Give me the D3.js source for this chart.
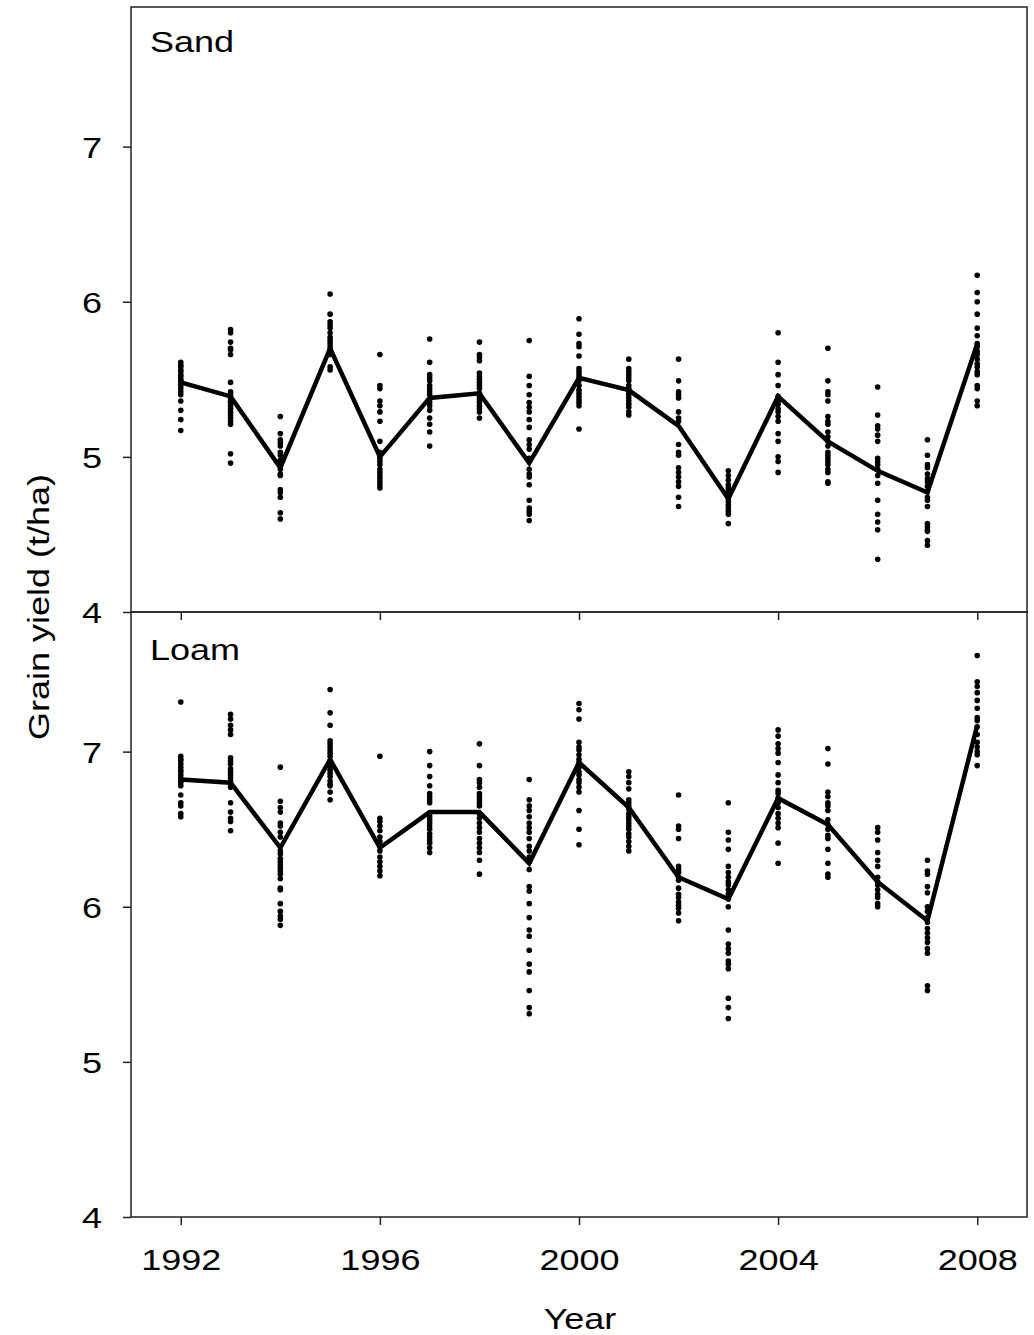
<!DOCTYPE html>
<html>
<head>
<meta charset="utf-8">
<script src="https://cdn.jsdelivr.net/npm/d3@7"></script>
<style>
  body { margin: 0; background: #fff; }
  text { font-family: "Liberation Sans", Arial, sans-serif; fill: #000; }
</style>
</head>
<body>
<svg id="chart" width="1034" height="1335"></svg>
<script>
const years = [1992,1993,1994,1995,1996,1997,1998,1999,2000,2001,2002,2003,2004,2005,2006,2007,2008];
const xTicks = [1992,1996,2000,2004,2008];
const yTicks = [4,5,6,7];
const panelNames = ["Sand","Loam"];

const sandMean = [5.48,5.39,4.93,5.70,5.00,5.38,5.41,4.96,5.51,5.43,5.20,4.73,5.39,5.10,4.91,4.77,5.73];
const loamMean = [6.82,6.80,6.38,6.95,6.38,6.61,6.61,6.28,6.93,6.64,6.19,6.05,6.70,6.53,6.16,5.91,7.17];

const sandYield = [
  [5.61,5.59,5.58,5.56,5.55,5.53,5.52,5.50,5.49,5.47,5.46,5.44,5.42,5.40,5.36,5.30,5.24,5.17],
  [5.82,5.80,5.74,5.70,5.69,5.66,5.48,5.42,5.40,5.38,5.36,5.35,5.33,5.31,5.29,5.27,5.25,5.23,5.21,5.02,4.96],
  [5.26,5.15,5.11,5.09,5.07,5.03,5.01,4.98,4.96,4.94,4.92,4.89,4.88,4.79,4.77,4.74,4.64,4.60],
  [6.05,5.92,5.87,5.85,5.83,5.80,5.77,5.75,5.73,5.71,5.69,5.67,5.66,5.58,5.56],
  [5.66,5.46,5.44,5.36,5.33,5.29,5.23,5.10,5.03,5.01,4.99,4.97,4.95,4.92,4.90,4.88,4.86,4.84,4.82,4.80],
  [5.76,5.61,5.53,5.51,5.49,5.46,5.44,5.42,5.40,5.37,5.35,5.33,5.30,5.25,5.21,5.16,5.07],
  [5.74,5.66,5.64,5.62,5.54,5.52,5.50,5.48,5.46,5.44,5.41,5.39,5.37,5.35,5.33,5.31,5.29,5.25],
  [5.75,5.52,5.46,5.40,5.35,5.32,5.29,5.24,5.19,5.11,5.08,5.05,4.99,4.92,4.89,4.87,4.82,4.72,4.67,4.65,4.63,4.59],
  [5.89,5.79,5.73,5.71,5.65,5.57,5.55,5.53,5.51,5.49,5.46,5.43,5.41,5.39,5.37,5.35,5.33,5.18],
  [5.63,5.57,5.55,5.53,5.51,5.49,5.46,5.44,5.42,5.40,5.38,5.36,5.34,5.32,5.29,5.27],
  [5.63,5.49,5.42,5.40,5.38,5.29,5.25,5.23,5.08,5.03,5.01,4.93,4.90,4.87,4.84,4.81,4.74,4.68],
  [4.91,4.88,4.85,4.82,4.80,4.78,4.75,4.73,4.71,4.69,4.67,4.65,4.63,4.57],
  [5.80,5.61,5.53,5.46,5.39,5.36,5.34,5.31,5.29,5.26,5.23,5.15,5.10,5.00,4.97,4.90],
  [5.70,5.49,5.42,5.40,5.36,5.26,5.23,5.21,5.16,5.13,5.10,5.07,5.03,5.01,4.99,4.97,4.95,4.92,4.90,4.84,4.83],
  [5.45,5.27,5.20,5.18,5.14,5.10,4.99,4.97,4.95,4.92,4.88,4.83,4.72,4.63,4.58,4.53,4.34],
  [5.11,5.01,4.95,4.93,4.89,4.86,4.84,4.81,4.78,4.74,4.72,4.68,4.57,4.55,4.53,4.52,4.46,4.43],
  [6.17,6.06,6.00,5.92,5.83,5.78,5.73,5.71,5.68,5.66,5.63,5.60,5.58,5.55,5.53,5.46,5.44,5.36,5.33]
];

const loamYield = [
  [7.32,6.97,6.95,6.94,6.92,6.90,6.88,6.87,6.85,6.83,6.81,6.80,6.78,6.72,6.67,6.65,6.60,6.58],
  [7.24,7.21,7.17,7.14,7.11,6.96,6.94,6.92,6.89,6.87,6.85,6.83,6.81,6.79,6.77,6.67,6.61,6.57,6.55,6.49],
  [6.90,6.68,6.64,6.61,6.54,6.52,6.48,6.45,6.39,6.36,6.34,6.31,6.29,6.27,6.25,6.23,6.21,6.18,6.12,6.11,6.02,5.97,5.94,5.92,5.88],
  [7.40,7.25,7.17,7.07,7.05,7.03,7.01,6.99,6.97,6.94,6.92,6.90,6.88,6.86,6.84,6.81,6.79,6.78,6.74,6.69],
  [6.97,6.57,6.55,6.52,6.49,6.45,6.42,6.39,6.36,6.32,6.29,6.26,6.23,6.20],
  [7.00,6.91,6.84,6.78,6.73,6.71,6.69,6.67,6.60,6.58,6.56,6.54,6.52,6.50,6.47,6.45,6.43,6.41,6.38,6.35],
  [7.05,6.91,6.82,6.80,6.77,6.73,6.71,6.69,6.67,6.65,6.60,6.57,6.54,6.51,6.48,6.44,6.41,6.38,6.35,6.30,6.21],
  [6.82,6.69,6.65,6.62,6.58,6.54,6.51,6.48,6.44,6.39,6.36,6.32,6.29,6.24,6.13,6.10,6.02,5.93,5.85,5.81,5.72,5.63,5.58,5.46,5.35,5.31],
  [7.31,7.27,7.21,7.06,7.03,7.01,6.98,6.95,6.93,6.90,6.87,6.85,6.82,6.80,6.77,6.74,6.62,6.50,6.40],
  [6.87,6.84,6.80,6.76,6.69,6.67,6.65,6.63,6.60,6.58,6.56,6.54,6.52,6.50,6.47,6.45,6.42,6.39,6.36],
  [6.72,6.52,6.50,6.44,6.26,6.24,6.22,6.19,6.17,6.12,6.08,6.06,6.03,6.01,5.99,5.96,5.91],
  [6.67,6.48,6.43,6.37,6.26,6.22,6.19,6.16,6.14,6.11,6.08,6.05,6.00,5.85,5.76,5.73,5.70,5.65,5.63,5.60,5.41,5.35,5.28],
  [7.14,7.10,7.05,7.02,6.99,6.93,6.85,6.80,6.75,6.73,6.70,6.67,6.64,6.60,6.57,6.54,6.51,6.41,6.28],
  [7.02,6.92,6.74,6.71,6.67,6.65,6.62,6.56,6.53,6.50,6.46,6.44,6.37,6.28,6.21,6.19],
  [6.51,6.48,6.43,6.35,6.30,6.26,6.19,6.16,6.14,6.11,6.08,6.06,6.02,6.00],
  [6.30,6.23,6.21,6.13,6.09,6.00,5.97,5.93,5.90,5.86,5.83,5.80,5.77,5.73,5.70,5.49,5.46],
  [7.62,7.45,7.42,7.38,7.33,7.28,7.22,7.20,7.16,7.11,7.06,7.03,7.00,6.98,6.91]
];

const svg = d3.select("#chart");
const left = 131, right = 1027;
const panels = [
  { name: panelNames[0], top: 7, bottom: 612, mean: sandMean, pts: sandYield, labelY: 52, showX: false },
  { name: panelNames[1], top: 612, bottom: 1217, mean: loamMean, pts: loamYield, labelY: 660, showX: true }
];

const x = d3.scaleLinear().domain([1991, 2009]).range([left, right]);
const ink = "#222";
const TX = "scale(1.2,1)";

panels.forEach(p => {
  const y = d3.scaleLinear().domain([4, 7.9]).range([p.bottom, p.top]);
  const g = svg.append("g");

  const ya = g.append("g").attr("transform", `translate(${left},0)`)
    .call(d3.axisLeft(y).tickValues(yTicks).tickSize(8).tickSizeOuter(0).tickFormat(d3.format("d")));
  ya.select(".domain").remove();
  ya.selectAll(".tick line").attr("stroke", ink).attr("stroke-width", 1.5);
  ya.selectAll(".tick text")
    .attr("x", 0).attr("dy", "0.36em")
    .attr("transform", "translate(-29,0) " + TX)
    .style("font-size", "30px").style("font-family", "'Liberation Sans', Arial, sans-serif").attr("fill", "#000");

  const xa = g.append("g").attr("transform", `translate(0,${p.bottom})`)
    .call(d3.axisBottom(x).tickValues(xTicks).tickSize(8).tickSizeOuter(0)
      .tickFormat(p.showX ? d3.format("d") : () => ""));
  xa.select(".domain").remove();
  xa.selectAll(".tick line").attr("stroke", ink).attr("stroke-width", 1.5);
  xa.selectAll(".tick text")
    .attr("y", 53).attr("dy", "0")
    .attr("transform", TX)
    .style("font-size", "30px").style("font-family", "'Liberation Sans', Arial, sans-serif").attr("fill", "#000");

  g.append("path")
    .attr("d", `M${left},${p.top}H${right}V${p.bottom}H${left}Z`)
    .attr("fill", "none").attr("stroke", ink).attr("stroke-width", 1.5);

  const flat = [];
  p.pts.forEach((arr, i) => arr.forEach(v => flat.push({ year: years[i], v })));
  g.append("g").selectAll("circle").data(flat).join("circle")
    .attr("cx", d => x(d.year)).attr("cy", d => y(d.v)).attr("r", 2.8).attr("fill", "#000");

  const line = d3.line().x((d, i) => x(years[i])).y(d => y(d));
  g.append("path").datum(p.mean).attr("d", line)
    .attr("fill", "none").attr("stroke", "#000").attr("stroke-width", 4.5).attr("stroke-linejoin", "miter");

  g.append("text").attr("transform", `translate(150,${p.labelY}) ${TX}`)
    .style("font-size", "30px").text(p.name);
});

svg.append("text").attr("transform", `translate(580,1329) ${TX}`)
  .attr("text-anchor", "middle").style("font-size", "30px").text("Year");
svg.append("text").attr("transform", `translate(49,607) rotate(-90) ${TX}`)
  .attr("text-anchor", "middle").style("font-size", "30px").text("Grain yield (t/ha)");
</script>
</body>
</html>
